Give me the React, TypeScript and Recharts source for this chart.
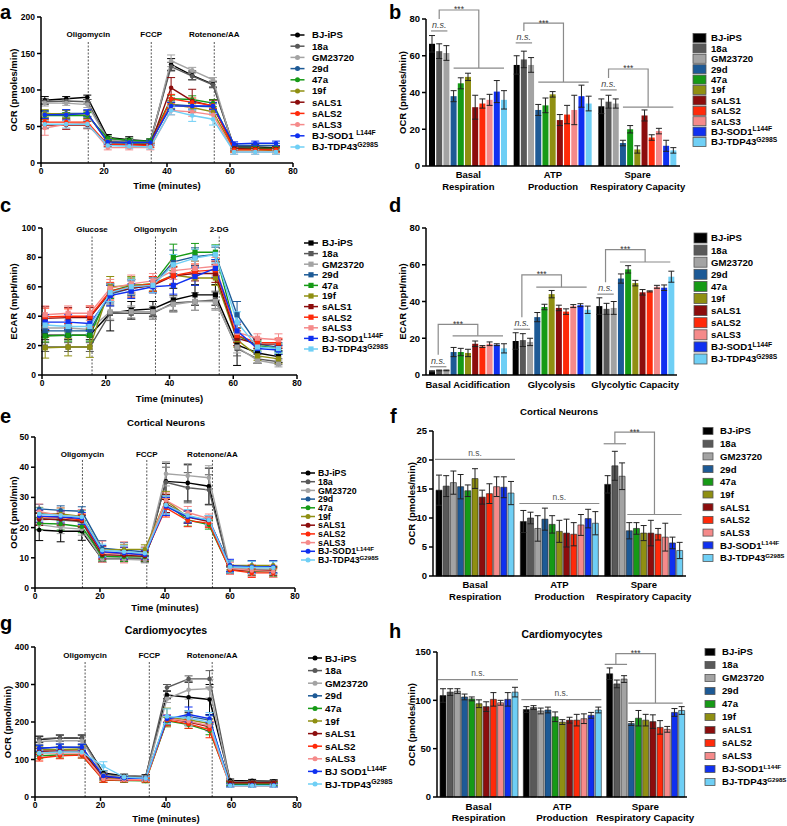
import React from "react";
import { LineChart, Line, BarChart, Bar, XAxis, YAxis, ErrorBar, ReferenceLine } from "recharts";

const FONT = "'Liberation Sans', Arial, Helvetica, sans-serif";

// cell lines, same order in every panel
const lineNames = ["BJ-iPS", "18a", "GM23720", "29d", "47a", "19f", "sALS1", "sALS2", "sALS3", "BJ-SOD1", "BJ-TDP43"];
const lineSup = ["", "", "", "", "", "", "", "", "", "L144F", "G298S"];
const lineColors = ["#000000", "#595959", "#a3a3a3", "#1d5a96", "#169a16", "#8f8f12", "#8c0d0d", "#ff2a0a", "#f58a8a", "#0f30f0", "#6fcff5"];

// a: iPSC mito stress OCR
const timeA = [1.2, 8, 14.7, 21.2, 28, 34.7, 41.3, 48, 54.6, 61.3, 68, 74.6];
const injA = ["Oligomycin", "FCCP", "Rotenone/AA"];
const injTimeA = [15, 35, 55];
const ocrA = [
  [86, 88, 90, 35, 32, 30, 135, 120, 108, 22, 22, 21],
  [84, 85, 84, 33, 30, 29, 132, 119, 107, 20, 20, 20],
  [82, 82, 80, 32, 29, 28, 140, 127, 114, 19, 19, 19],
  [67, 68, 68, 28, 27, 27, 80, 78, 77, 24, 24, 24],
  [65, 65, 65, 34, 31, 30, 88, 87, 82, 20, 20, 20],
  [68, 67, 67, 30, 28, 27, 80, 76, 70, 18, 18, 17],
  [52, 52, 52, 26, 25, 25, 103, 85, 78, 20, 19, 19],
  [56, 56, 56, 25, 25, 24, 88, 83, 79, 18, 18, 18],
  [48, 53, 54, 21, 21, 21, 72, 70, 66, 15, 15, 15],
  [66, 66, 68, 29, 28, 28, 78, 78, 78, 26, 27, 27],
  [53, 53, 53, 24, 23, 22, 72, 65, 60, 15, 15, 15],
];
const ocrAErr = [
  [5, 3, 3, 4, 4, 3, 8, 6, 4, 3, 3, 3],
  [4, 3, 3, 3, 3, 3, 6, 5, 4, 3, 3, 3],
  [4, 3, 4, 3, 3, 3, 8, 4, 3, 3, 3, 3],
  [5, 5, 4, 3, 3, 3, 5, 4, 4, 3, 3, 3],
  [5, 4, 4, 3, 3, 3, 5, 5, 5, 3, 3, 3],
  [5, 5, 4, 3, 3, 3, 6, 5, 4, 3, 3, 3],
  [5, 6, 5, 3, 3, 3, 14, 16, 8, 3, 3, 3],
  [4, 4, 4, 3, 3, 3, 6, 6, 4, 3, 3, 3],
  [10, 6, 5, 3, 3, 3, 6, 6, 5, 3, 3, 3],
  [5, 7, 5, 3, 3, 3, 5, 5, 5, 3, 3, 3],
  [5, 5, 5, 3, 3, 3, 6, 8, 8, 3, 3, 3],
];

// c: glycolysis stress ECAR
const timeC = [1, 8.2, 15, 21.4, 28, 34.8, 41.2, 48, 54.4, 61.2, 67.6, 74.2];
const injC = ["Glucose", "Oligomycin", "2-DG"];
const injTimeC = [15.7, 35.6, 55.6];
const ecarC = [
  [27, 27, 27, 42, 44, 45, 51, 54.5, 54.5, 20.5, 15, 12.5],
  [19, 19, 19, 42, 42, 42, 49, 50, 51, 18, 11, 9],
  [32, 32, 31, 43, 43, 43, 48, 50, 50, 19, 10, 7.5],
  [30, 30, 30, 55, 59, 61, 77, 80.5, 82, 41, 21, 19],
  [26.5, 27, 27, 57, 61, 62, 80, 83.5, 83.5, 27, 20, 18],
  [18.5, 19, 19, 60, 61, 62, 68, 66, 66, 24, 13, 11],
  [38.5, 39, 39, 56, 59, 61, 67.5, 69, 69, 25, 21, 21],
  [39.5, 40, 40, 57, 60, 62, 67.5, 70.5, 71.5, 27, 22, 22],
  [41, 42, 42, 59, 62, 64, 71, 72.5, 74, 29, 25, 24],
  [36, 36, 35, 54, 57, 60, 61, 67, 72.5, 30, 18, 17],
  [34, 33, 33, 56, 60, 61, 75, 79.5, 82, 36, 19, 18],
];
const ecarCErr = [
  [3, 3, 3, 12, 6, 5, 8, 7, 7, 14, 7, 4],
  [3, 3, 3, 5, 4, 4, 5, 6, 6, 5, 3, 2],
  [3, 3, 3, 5, 4, 4, 5, 6, 6, 4, 2, 2],
  [4, 4, 4, 6, 5, 5, 8, 6, 5, 9, 3, 3],
  [4, 4, 4, 5, 5, 5, 9, 6, 5, 5, 3, 3],
  [7, 6, 7, 7, 6, 5, 6, 5, 5, 5, 3, 3],
  [8, 7, 7, 6, 6, 5, 6, 5, 6, 5, 3, 3],
  [6, 5, 7, 6, 5, 5, 6, 5, 6, 5, 3, 3],
  [6, 5, 5, 6, 6, 5, 6, 5, 6, 5, 3, 4],
  [5, 5, 5, 7, 5, 4, 6, 6, 6, 6, 3, 3],
  [5, 5, 5, 6, 5, 5, 7, 6, 6, 7, 3, 3],
];

// e: cortical neurons OCR
const timeE = [1.3, 7.9, 14.4, 20.7, 27.4, 33.8, 40.3, 47, 53.5, 60, 66.7, 73.3];
const injTimeE = [14.6, 34.4, 54.6];
const ocrE = [
  [19.2, 18.8, 18.8, 9.5, 9.8, 9.6, 35.3, 34.8, 33.7, 6, 5.8, 5.7],
  [23, 22.5, 22, 9.8, 9.9, 9.8, 35, 33.2, 32.5, 6, 6, 6],
  [21, 20, 19.5, 9.5, 9.5, 9.3, 37.8, 37.2, 36.5, 6.5, 6.3, 6.2],
  [26.2, 25.7, 25.4, 13.2, 12.5, 12, 27.5, 23.5, 22.5, 7, 7, 7],
  [21.4, 21.2, 20.3, 10.5, 10.3, 10.3, 28, 22.5, 21, 6, 5.5, 5.4],
  [24.7, 24.5, 23.7, 12.5, 12.8, 12.8, 29, 23.5, 22.5, 7.5, 7.5, 7.5],
  [22.7, 22.8, 22.2, 11, 10.8, 10.5, 28, 23.5, 22, 6, 5.8, 5.7],
  [23.6, 23.5, 22.5, 11.7, 11.5, 11, 26.5, 22.3, 21.5, 6, 5, 5],
  [25.3, 24, 23.5, 12, 11.8, 11.5, 29, 25, 23, 6.5, 5.8, 5.5],
  [23.8, 23.5, 23, 12, 11.5, 11, 27, 23.5, 22.5, 7.5, 7, 7],
  [24.5, 24, 23.5, 12.5, 12, 11.5, 27.5, 24, 22.5, 7, 6.8, 6.7],
];
const ocrEErr = [
  [3.5, 3.5, 3, 1, 1, 1, 6, 6, 6, 1, 1, 1],
  [2, 2, 2, 1, 1, 1, 5, 5, 5, 1, 1, 1],
  [2, 2, 2, 1, 1, 1, 4, 4, 4, 1, 1, 1],
  [1.5, 1.5, 1.5, 2.5, 2.5, 1.5, 3, 2, 1.5, 2, 2, 2],
  [2, 2, 2, 1.5, 1.5, 1.5, 3, 2, 1.5, 1.5, 1.5, 1.5],
  [2, 2, 2, 1.5, 1.5, 1.5, 3, 2, 1.5, 1.5, 1.5, 1.5],
  [2, 2, 2, 1.5, 1.5, 1.5, 3, 2, 1.5, 1.5, 1.5, 1.5],
  [2, 2, 2, 2, 2, 1.5, 3, 2, 1.5, 1.5, 1.5, 1.5],
  [2.5, 2.5, 2.5, 3.5, 3.5, 2, 2.5, 2, 1.5, 2, 2, 2],
  [2, 2, 2, 2, 2, 1.5, 3, 2, 1.5, 2, 2, 2],
  [2, 2, 2, 2, 2, 1.5, 3, 2, 1.5, 2, 2, 2],
];

// g: cardiomyocytes OCR
const timeG = [1.3, 7.6, 14.3, 20.9, 27.2, 33.8, 40.3, 46.9, 53.3, 59.6, 66.3, 72.9];
const injTimeG = [15.3, 34.9, 54.1];
const ocrG = [
  [153, 157, 157, 64, 56, 55, 272, 266, 260, 44, 43, 42],
  [155, 158, 158, 60, 55, 54, 292, 315, 315, 40, 40, 40],
  [148, 150, 150, 58, 53, 52, 262, 286, 289, 36, 36, 36],
  [130, 133, 132, 52, 49, 48, 205, 215, 205, 33, 33, 33],
  [110, 112, 112, 45, 44, 43, 203, 193, 176, 34, 34, 34],
  [126, 127, 128, 50, 48, 47, 212, 206, 196, 38, 37, 37],
  [122, 123, 122, 54, 50, 49, 210, 200, 187, 38, 38, 38],
  [104, 110, 112, 45, 45, 44, 205, 195, 180, 30, 30, 30],
  [117, 117, 117, 48, 46, 46, 210, 202, 190, 30, 30, 30],
  [130, 133, 133, 56, 50, 50, 208, 220, 209, 31, 31, 31],
  [117, 120, 120, 82, 53, 50, 215, 210, 200, 30, 30, 30],
];
const ocrGErr = [
  [8, 8, 8, 6, 5, 5, 10, 40, 40, 4, 4, 4],
  [8, 8, 8, 6, 5, 5, 8, 8, 22, 4, 4, 4],
  [8, 8, 8, 6, 5, 5, 10, 25, 25, 4, 4, 4],
  [8, 8, 8, 6, 5, 5, 15, 15, 12, 4, 4, 4],
  [8, 8, 8, 6, 5, 5, 10, 10, 10, 4, 4, 4],
  [8, 8, 8, 6, 5, 5, 25, 15, 12, 4, 4, 4],
  [8, 8, 8, 6, 5, 5, 10, 10, 10, 4, 4, 4],
  [8, 8, 8, 6, 5, 5, 15, 12, 22, 4, 4, 4],
  [8, 8, 8, 6, 5, 5, 10, 10, 10, 4, 4, 4],
  [8, 8, 8, 6, 5, 5, 10, 20, 10, 4, 4, 4],
  [8, 8, 8, 12, 5, 5, 20, 20, 25, 4, 4, 4],
];

// bar panels: rows = categories, columns = cell lines
const ocrCats = ["Basal\nRespiration", "ATP\nProduction", "Spare\nRespiratory Capacity"];
const ecarCats = ["Basal Acidification", "Glycolysis", "Glycolytic Capacity"];

const barB = [
  [66.5, 62.5, 61.5, 38, 45, 48.5, 32, 34, 36, 40.5, 36],
  [55, 58, 55, 30.5, 33, 39, 25, 28, 30.5, 38, 34],
  [32.5, 35, 34, 12.5, 20, 9, 27.5, 15.5, 19, 11, 8.5],
];
const barBErr = [
  [4.5, 4, 4, 3, 3, 2, 6.5, 2.5, 3, 6, 5],
  [5, 4.5, 4, 3, 4, 1.5, 3, 5, 8, 6, 4],
  [4, 3.5, 2.5, 1.5, 2, 2, 3, 1.5, 1.5, 3, 1.5],
];
const barD = [
  [2, 2.5, 2.5, 12.5, 12.5, 12, 17, 15.5, 17, 16.5, 14.5],
  [18.5, 19, 18, 31.5, 37, 44, 36.5, 34.5, 37.5, 38, 35.5],
  [37.5, 36, 36.5, 52.5, 57.5, 50, 45, 45.5, 48, 47.5, 53.5],
];
const barDErr = [
  [0.3, 0.2, 0.2, 2.5, 2, 2, 1.5, 0.5, 1, 0.5, 2.5],
  [4.5, 3.5, 2, 2.5, 1.5, 2, 1.5, 1.5, 0.8, 0.8, 2],
  [4.5, 3, 3.5, 2.5, 2, 1.5, 1.5, 0.3, 0.8, 1.5, 3],
];
const barF = [
  [14.8, 15.5, 16.1, 15.4, 14.7, 16.8, 13.6, 14.2, 15.4, 15.3, 14.3],
  [9.4, 10, 8.2, 9.8, 8.9, 7.7, 7.4, 7.2, 8.8, 9.9, 9.1],
  [15.8, 19, 17.2, 7.8, 8.2, 7.4, 7.4, 7.2, 6.7, 5.7, 4.4],
];
const barFErr = [
  [2.6, 1.8, 2, 2.1, 1, 1.7, 1.2, 1.7, 1.7, 1.8, 2],
  [1.9, 1, 2.2, 1.9, 1.5, 1.9, 2.4, 2, 1.8, 1.6, 2],
  [1.5, 2.5, 2.3, 1.4, 1, 1.3, 2.2, 1, 2.4, 1, 1.4],
];
const barH = [
  [105, 108.5, 109.5, 103.5, 101.5, 96.5, 93.5, 101, 97.5, 101, 108.5],
  [90.5, 92.5, 89, 90, 83, 77.5, 79.5, 79.5, 81, 84.5, 90],
  [127.5, 117, 122, 76, 81.5, 79.5, 78, 72, 70, 87.5, 89.5],
];
const barHErr = [
  [7, 3.5, 2.5, 3, 2, 4, 5, 7, 2.5, 7, 5],
  [3, 2, 3, 3, 5, 2.5, 3, 6, 5, 3, 3],
  [6, 4, 3.5, 2, 8, 6, 7, 7, 3, 4, 4],
];

// significance marks (in data units)
const nsB = [73.5, 67, 41.4];
const sigB = [
  { top: 84.9, low: 53.3 },
  { top: 77.8, low: 45.7 },
  { top: 52.8, low: 32 },
];
const nsD = [4.5, 24.9, 44];
const sigD = [
  { top: 27.6, low: 21.3 },
  { top: 54.5, low: 47.8 },
  { top: 68.2, low: 61.5 },
];
const nsF = [20.1, 12.5];
const sigF = { short: 22.8, top: 24.8, low: 10.6 };
const nsH = [121.4, 100.7];
const sigH = { short: 137.2, top: 148.3, low: 97.2 };

const BAR_SIZE = 6;
const BAR_GAP = 1.2;

type Box = { x: number; y: number; w: number; h: number; L: number; R: number; T: number; B: number };

const boxA: Box = { x: 0, y: 0, w: 299, h: 195, L: 41, R: 293, T: 17, B: 163 };
const boxC: Box = { x: 0, y: 205, w: 303, h: 205, L: 42, R: 297, T: 228, B: 375 };
const boxE: Box = { x: 0, y: 410, w: 301, h: 205, L: 35, R: 295, T: 437, B: 588 };
const boxG: Box = { x: 0, y: 615, w: 303, h: 211, L: 35, R: 297, T: 647, B: 797 };
const boxB: Box = { x: 390, y: 0, w: 330, h: 200, L: 426, R: 680, T: 19, B: 166 };
const boxD: Box = { x: 390, y: 205, w: 330, h: 190, L: 426, R: 677, T: 228, B: 375 };
const boxF: Box = { x: 390, y: 410, w: 336, h: 195, L: 433, R: 686, T: 431, B: 576 };
const boxH: Box = { x: 390, y: 615, w: 337, h: 211, L: 437, R: 687, T: 652, B: 797 };

const bold = { fill: "#000", fontWeight: 700, fontFamily: FONT };

function Trace(props: any) {
  const { box, times, means, errs, max, yTicks, yLabel, yLabelX, xLabelOffset, inj, injTimes, injTop, injOffset, square } = props;
  const series = means.map((row: number[], si: number) =>
    row.map((v, i) => ({ t: times[i], v, e: errs[si][i] }))
  );
  return (
    <div style={{ position: "absolute", left: box.x, top: box.y }}>
      <LineChart
        width={box.w}
        height={box.h}
        margin={{ top: box.T - box.y, right: box.x + box.w - box.R, bottom: 0, left: 0 }}
      >
        <XAxis
          type="number"
          dataKey="t"
          domain={[0, 80]}
          ticks={[0, 20, 40, 60, 80]}
          interval={0}
          allowDataOverflow
          height={box.y + box.h - box.B}
          stroke="#000"
          strokeWidth={1.5}
          tickSize={4}
          tickMargin={1}
          tick={{ ...bold, fontSize: 8.5 }}
          label={{ value: "Time (minutes)", position: "insideBottom", offset: xLabelOffset, ...bold, fontSize: 9.5 }}
        />
        <YAxis
          type="number"
          domain={[0, max]}
          ticks={yTicks}
          interval={0}
          width={box.L - box.x}
          stroke="#000"
          strokeWidth={1.5}
          tickSize={4}
          tickMargin={2}
          tick={{ ...bold, fontSize: 8.5 }}
          label={{
            value: yLabel,
            angle: -90,
            position: "insideLeft",
            offset: yLabelX - box.x,
            ...bold,
            fontSize: 9.5,
            style: { textAnchor: "middle" },
          }}
        />
        {injTimes.map((t: number, i: number) => (
          <ReferenceLine
            key={"inj" + i}
            segment={[{ x: t, y: 0 }, { x: t, y: injTop }]}
            stroke="#444"
            strokeWidth={0.9}
            strokeDasharray="2 1.5"
            label={{ value: inj[i], position: "top", offset: injOffset, ...bold, fontSize: 8 }}
          />
        ))}
        {series.map((d: any[], si: number) => (
          <Line
            key={lineNames[si]}
            data={d}
            dataKey="v"
            stroke={lineColors[si]}
            strokeWidth={1.4}
            isAnimationActive={false}
            activeDot={false}
            dot={
              square
                ? (p: any) => (
                    <rect key={p.index} x={p.cx - 2.6} y={p.cy - 2.6} width={5.2} height={5.2} fill={lineColors[si]} />
                  )
                : { r: 2.3, fill: lineColors[si], stroke: lineColors[si], strokeWidth: 0 }
            }
          >
            <ErrorBar dataKey="e" direction="y" width={4} strokeWidth={1} stroke={lineColors[si]} />
          </Line>
        ))}
      </LineChart>
    </div>
  );
}

function Bars(props: any) {
  const { box, cats, means, errs, max, yTicks, yLabel, yLabelX, tickY, outlined, tickFont } = props;
  const data = cats.map((c: string, gi: number) => {
    const row: any = { cat: c };
    means[gi].forEach((v: number, si: number) => {
      row["s" + si] = v;
      row["e" + si] = errs[gi][si];
    });
    return row;
  });
  const CatTick = (p: any) => {
    const parts = String(p.payload.value).split("\n");
    return (
      <text textAnchor="middle" {...bold} fontSize={tickFont}>
        {parts.map((s, i) => (
          <tspan key={i} x={p.x} y={tickY[i] - box.y}>
            {s}
          </tspan>
        ))}
      </text>
    );
  };
  return (
    <div style={{ position: "absolute", left: box.x, top: box.y }}>
      <BarChart
        width={box.w}
        height={box.h}
        data={data}
        barSize={BAR_SIZE}
        barGap={BAR_GAP}
        margin={{ top: box.T - box.y, right: box.x + box.w - box.R, bottom: 0, left: 0 }}
      >
        <XAxis
          dataKey="cat"
          interval={0}
          height={box.y + box.h - box.B}
          stroke="#000"
          strokeWidth={1.5}
          tickLine={false}
          tick={CatTick}
        />
        <YAxis
          type="number"
          domain={[0, max]}
          ticks={yTicks}
          interval={0}
          width={box.L - box.x}
          stroke="#000"
          strokeWidth={1.5}
          tickSize={4}
          tickMargin={2}
          tick={{ ...bold, fontSize: 9.5 }}
          label={{
            value: yLabel,
            angle: -90,
            position: "insideLeft",
            offset: yLabelX - box.x,
            ...bold,
            fontSize: 9.5,
            style: { textAnchor: "middle" },
          }}
        />
        {lineNames.map((n, si) => (
          <Bar
            key={n}
            dataKey={"s" + si}
            fill={lineColors[si]}
            stroke={outlined ? "#222" : "none"}
            strokeWidth={0.6}
            isAnimationActive={false}
          >
            <ErrorBar dataKey={"e" + si} direction="y" width={3} strokeWidth={1} stroke="#222" />
          </Bar>
        ))}
      </BarChart>
    </div>
  );
}

// pixel helpers matching the bar layout recharts uses with a fixed barSize
function barLeft(b: Box, g: number, i: number) {
  const band = (b.R - b.L) / 3;
  const sum = 11 * BAR_SIZE + 10 * BAR_GAP;
  const off = Math.floor((band - sum) / 2);
  return b.L + g * band + off + i * (BAR_SIZE + BAR_GAP);
}
const barMid = (b: Box, g: number, i: number) => barLeft(b, g, i) + BAR_SIZE / 2;
const yPix = (b: Box, max: number, v: number) => b.B - ((b.B - b.T) * v) / max;

function Legend(props: any) {
  const { x, tx, y0, dy, kind, fs, sup = 0.7, sod, bw, bh } = props;
  return (
    <g>
      {lineNames.map((n, si) => {
        const y = y0 + si * dy;
        const c = lineColors[si];
        const label = si === 9 && sod ? sod : n;
        return (
          <g key={n}>
            {kind === "box" ? (
              <rect x={x} y={y - bh / 2} width={bw} height={bh} fill={c} stroke="#555" strokeWidth={0.8} />
            ) : (
              <>
                <line x1={x - 7} x2={x + 7} y1={y} y2={y} stroke={c} strokeWidth={1.5} />
                {kind === "sq" ? (
                  <rect x={x - 2.6} y={y - 2.6} width={5.2} height={5.2} fill={c} />
                ) : (
                  <circle cx={x} cy={y} r={2.5} fill={c} />
                )}
              </>
            )}
            <text x={tx} y={y + fs * 0.36} fontSize={fs} {...bold}>
              {label}
              {lineSup[si] && (
                <tspan dy={-fs * 0.4} fontSize={fs * sup}>
                  {lineSup[si]}
                </tspan>
              )}
            </text>
          </g>
        );
      })}
    </g>
  );
}

function SigGroups(props: any) {
  const { box, max, ns, sig } = props;
  const col = "#8a8a8a";
  return (
    <g>
      {ns.map((v: number, g: number) => {
        const y = yPix(box, max, v);
        const s = sig[g];
        const lx = barMid(box, g, 1);
        const rx = (barMid(box, g, 3) + barMid(box, g, 10)) / 2;
        const ty = yPix(box, max, s.top);
        const ly = yPix(box, max, s.low);
        return (
          <g key={g}>
            <line x1={barMid(box, g, 0) - 1} x2={barMid(box, g, 2) + 1} y1={y} y2={y} stroke={col} strokeWidth={1.2} />
            <text x={lx} y={y - 3} textAnchor="middle" fontSize={9} fontStyle="italic" fill="#444" fontFamily={FONT}>
              n.s.
            </text>
            <polyline points={`${lx},${y - 12} ${lx},${ty} ${rx},${ty} ${rx},${ly}`} fill="none" stroke={col} strokeWidth={1.2} />
            <line x1={barMid(box, g, 3)} x2={barMid(box, g, 10)} y1={ly} y2={ly} stroke={col} strokeWidth={1.2} />
            <text x={(lx + rx) / 2} y={ty + 2.5} textAnchor="middle" fontSize={8.5} fill="#333" fontFamily={FONT}>
              ***
            </text>
          </g>
        );
      })}
    </g>
  );
}

function SigWide(props: any) {
  const { box, max, ns, sig } = props;
  const col = "#8a8a8a";
  const g = 2;
  const sy = yPix(box, max, sig.short);
  const ty = yPix(box, max, sig.top);
  const ly = yPix(box, max, sig.low);
  const lx = barMid(box, g, 1);
  const rx = (barMid(box, g, 3) + barMid(box, g, 10)) / 2;
  return (
    <g>
      {ns.map((v: number, gi: number) => {
        const y = yPix(box, max, v);
        const x1 = barLeft(box, gi, 0) - 1;
        const x2 = barLeft(box, gi, 10) + BAR_SIZE + 1;
        return (
          <g key={gi}>
            <line x1={x1} x2={x2} y1={y} y2={y} stroke={col} strokeWidth={1.2} />
            <text x={(x1 + x2) / 2} y={y - 3.5} textAnchor="middle" fontSize={8.5} fill="#555" fontFamily={FONT}>
              n.s.
            </text>
          </g>
        );
      })}
      <line x1={barLeft(box, g, 0) - 1} x2={barLeft(box, g, 2) + BAR_SIZE + 1} y1={sy} y2={sy} stroke={col} strokeWidth={1.2} />
      <polyline points={`${lx},${sy} ${lx},${ty} ${rx},${ty} ${rx},${ly}`} fill="none" stroke={col} strokeWidth={1.2} />
      <line x1={barMid(box, g, 3) - 2} x2={barMid(box, g, 10) + 2} y1={ly} y2={ly} stroke={col} strokeWidth={1.2} />
      <text x={(lx + rx) / 2} y={ty + 2.5} textAnchor="middle" fontSize={8.5} fill="#333" fontFamily={FONT}>
        ***
      </text>
    </g>
  );
}

export default function App() {
  const letter = (t: string, x: number, y: number) => (
    <text x={x} y={y} fontSize={20} {...bold}>
      {t}
    </text>
  );
  const title = (t: string, x: number, y: number, fs: number) => (
    <text x={x} y={y} textAnchor="middle" fontSize={fs} {...bold}>
      {t}
    </text>
  );
  return (
    <div style={{ position: "absolute", left: 0, top: 0, width: 787, height: 826, background: "#fff", fontFamily: FONT, overflow: "hidden" }}>
      <Trace box={boxA} times={timeA} means={ocrA} errs={ocrAErr} max={200} yTicks={[0, 50, 100, 150, 200]}
        yLabel="OCR (pmoles/min)" yLabelX={14} xLabelOffset={6} inj={injA} injTimes={injTimeA} injTop={166} injOffset={5} />
      <Trace box={boxC} times={timeC} means={ecarC} errs={ecarCErr} max={100} yTicks={[0, 20, 40, 60, 80, 100]}
        yLabel="ECAR (mpH/min)" yLabelX={14} xLabelOffset={8} inj={injC} injTimes={injTimeC} injTop={95.2} injOffset={3} square />
      <Trace box={boxE} times={timeE} means={ocrE} errs={ocrEErr} max={50} yTicks={[0, 10, 20, 30, 40, 50]}
        yLabel="OCR (pmol/min)" yLabelX={14} xLabelOffset={4} inj={injA} injTimes={injTimeE} injTop={42.4} injOffset={3} />
      <Trace box={boxG} times={timeG} means={ocrG} errs={ocrGErr} max={400} yTicks={[0, 100, 200, 300, 400]}
        yLabel="OCR (pmol/min)" yLabelX={8} xLabelOffset={4} inj={injA} injTimes={injTimeG} injTop={360} injOffset={4} />

      <Bars box={boxB} cats={ocrCats} means={barB} errs={barBErr} max={80} yTicks={[0, 20, 40, 60, 80]}
        yLabel="OCR (pmoles/min)" yLabelX={403} tickY={[178, 190]} tickFont={9.5} />
      <Bars box={boxD} cats={ecarCats} means={barD} errs={barDErr} max={80} yTicks={[0, 20, 40, 60, 80]}
        yLabel="ECAR (mpH/min)" yLabelX={403} tickY={[388]} tickFont={9.5} />
      <Bars box={boxF} cats={ocrCats} means={barF} errs={barFErr} max={25} yTicks={[0, 5, 10, 15, 20, 25]}
        yLabel="OCR (pmoles/min)" yLabelX={412} tickY={[588, 600]} tickFont={9.5} outlined />
      <Bars box={boxH} cats={ocrCats} means={barH} errs={barHErr} max={150} yTicks={[0, 50, 100, 150]}
        yLabel="OCR (pmoles/min)" yLabelX={412} tickY={[810, 821]} tickFont={9.8} outlined />

      <svg width={787} height={826} style={{ position: "absolute", left: 0, top: 0, pointerEvents: "none" }}>
        {letter("a", 0, 19)}
        {letter("b", 389, 19)}
        {letter("c", 0, 212)}
        {letter("d", 389, 212)}
        {letter("e", 0, 423)}
        {letter("f", 390, 423)}
        {letter("g", 0, 630)}
        {letter("h", 389, 638)}

        {title("Cortical Neurons", 166, 426, 9.7)}
        {title("Cortical Neurons", 559, 415, 9.7)}
        {title("Cardiomyocytes", 166, 634, 10.6)}
        {title("Cardiomyocytes", 562, 638, 10.4)}

        <Legend kind="dot" x={297.5} tx={312} y0={35} dy={11.2} fs={9.6} sod="BJ-SOD1 " />
        <Legend kind="sq" x={311} tx={322} y0={243} dy={10.6} fs={9.6} />
        <Legend kind="dot" x={308} tx={318} y0={473} dy={8.7} fs={8.8} />
        <Legend kind="dot" x={315} tx={325} y0={658} dy={12.6} fs={9.8} sod="BJ SOD1" />
        <Legend kind="box" x={693} tx={711} y0={38} dy={10.4} fs={9.6} bw={13} bh={9} />
        <Legend kind="box" x={694} tx={711} y0={238} dy={12.1} fs={9.6} bw={13} bh={10} />
        <Legend kind="box" x={703} tx={720} y0={431} dy={12.7} fs={9.6} sup={0.64} bw={10} bh={7} />
        <Legend kind="box" x={705} tx={722} y0={652} dy={13} fs={9.6} sup={0.64} bw={10} bh={7} />

        <SigGroups box={boxB} max={80} ns={nsB} sig={sigB} />
        <SigGroups box={boxD} max={80} ns={nsD} sig={sigD} />
        <SigWide box={boxF} max={25} ns={nsF} sig={sigF} />
        <SigWide box={boxH} max={150} ns={nsH} sig={sigH} />
      </svg>
    </div>
  );
}
